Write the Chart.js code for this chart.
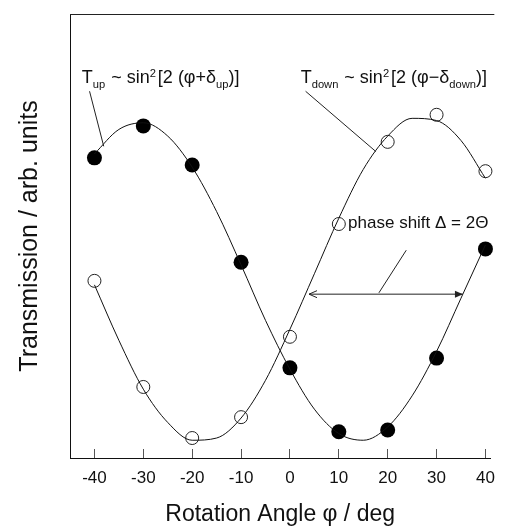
<!DOCTYPE html>
<html><head><meta charset="utf-8">
<script src="https://cdn.jsdelivr.net/npm/chart.js@4.4.1/dist/chart.umd.min.js"></script>
<style>html,body{margin:0;padding:0;background:#fff}canvas{display:block}</style>
</head><body>
<canvas id="c" width="514" height="527"></canvas>
<script>
// ---- data ----
const angles = [-40, -30, -20, -10, 0, 10, 20, 30, 40];
const tUp = [67.6, 74.8, 66.0, 44.1, 20.3, 5.9, 6.3, 22.5, 47.1];      // filled circles
const tDown = [39.9, 16.0, 4.5, 9.2, 27.3, 52.7, 71.2, 77.3, 64.6];    // open circles
const curveAngles = [-40, -35, -30, -25, -20, -15, -10, -5, 0, 5, 10, 15, 20, 25, 30, 35, 40];
const curveUp = [68.5, 74, 75.5, 72.5, 65.5, 55.5, 43.5, 31, 20, 11, 5.5, 4, 7, 14, 24, 36, 48];
const curveDown = [39, 26.5, 15.5, 8, 4, 4.5, 9, 17.5, 29, 41.5, 54, 65, 72.5, 76.5, 76, 71.5, 63];
const tickValues = [-40, -30, -20, -10, 0, 10, 20, 30, 40];
const tickLabels = ['-40', '-30', '-20', '-10', '0', '10', '20', '30', '40'];
const xTitle = 'Rotation Angle φ / deg';
const yTitle = 'Transmission / arb. units';
// annotation anchors in data units (angle, transmission)
const upLabel = [-42.6, 84.4];
const upLeader = [[-41.0, 82.6], [-38.1, 70.2]];
const downLabel = [2.2, 84.4];
const downLeader = [[3.2, 82.6], [17.6, 69.0]];
const shiftLabel = [11.9, 51.7];
const shiftLeader = [[23.8, 46.8], [18.2, 37.2]];
const shiftArrow = [[3.9, 36.9], [35.4, 36.9]];

const FAM = '"Liberation Sans", Arial, Helvetica, sans-serif';
const pts = (xs, ys) => xs.map((v, i) => ({x: v, y: ys[i]}));

function rich(ctx, segs, x0, y0, size) {
  let xx = x0;
  for (const s of segs) {
    let fs = size, dy = 0;
    if (s.sub) { fs = size * 0.62; dy = size * 0.28; }
    if (s.sup) { fs = size * 0.62; dy = -size * 0.36; }
    ctx.font = fs + 'px ' + FAM;
    ctx.fillText(s.t, xx, y0 + dy);
    xx += ctx.measureText(s.t).width + (s.gap || 0);
  }
}

const annot = {
  id: 'annot',
  afterDatasetsDraw(chart) {
    const {ctx, scales: {x, y}, chartArea: a} = chart;
    const P = (p) => [x.getPixelForValue(p[0]), y.getPixelForValue(p[1])];
    ctx.save();
    ctx.strokeStyle = '#222';
    ctx.lineWidth = 1;
    // top frame line
    ctx.beginPath(); ctx.moveTo(a.left, a.top + 0.5); ctx.lineTo(a.right + 4, a.top + 0.5); ctx.stroke();
    const line = (p1, p2) => {
      const A = P(p1), B = P(p2);
      ctx.beginPath(); ctx.moveTo(A[0], A[1]); ctx.lineTo(B[0], B[1]); ctx.stroke();
    };
    line(upLeader[0], upLeader[1]);
    line(downLeader[0], downLeader[1]);
    line(shiftLeader[0], shiftLeader[1]);
    // double arrow
    const L = P(shiftArrow[0]), R = P(shiftArrow[1]);
    ctx.beginPath(); ctx.moveTo(L[0], L[1]); ctx.lineTo(R[0], R[1]); ctx.stroke();
    ctx.beginPath(); ctx.moveTo(L[0] + 8, L[1] - 3.5); ctx.lineTo(L[0], L[1]); ctx.lineTo(L[0] + 8, L[1] + 3.5); ctx.stroke();
    ctx.fillStyle = '#222';
    ctx.beginPath(); ctx.moveTo(R[0] - 8, R[1] - 3.5); ctx.lineTo(R[0], R[1]); ctx.lineTo(R[0] - 8, R[1] + 3.5); ctx.closePath(); ctx.fill();
    // labels
    ctx.fillStyle = '#111';
    ctx.textAlign = 'left';
    ctx.textBaseline = 'alphabetic';
    const fs = 18;
    let p = P(upLabel);
    rich(ctx, [{t: 'T'}, {t: 'up', sub: true, gap: 1}, {t: ' ~ sin'}, {t: '2', sup: true, gap: 2}, {t: '[2 (φ+δ'}, {t: 'up', sub: true}, {t: ')]'}], p[0], p[1], fs);
    p = P(downLabel);
    rich(ctx, [{t: 'T'}, {t: 'down', sub: true, gap: 1}, {t: ' ~ sin'}, {t: '2', sup: true, gap: 2}, {t: '[2 (φ−δ'}, {t: 'down', sub: true}, {t: ')]'}], p[0], p[1], fs);
    p = P(shiftLabel);
    rich(ctx, [{t: 'phase shift Δ = 2Θ'}], p[0], p[1], 17);
    ctx.restore();
  }
};

new Chart(document.getElementById('c'), {
  type: 'scatter',
  data: {
    datasets: [
      {type: 'line', data: pts(curveAngles, curveUp), borderColor: '#111', borderWidth: 1, pointRadius: 0, cubicInterpolationMode: 'monotone', fill: false},
      {type: 'line', data: pts(curveAngles, curveDown), borderColor: '#111', borderWidth: 1, pointRadius: 0, cubicInterpolationMode: 'monotone', fill: false},
      {data: pts(angles, tUp), pointRadius: 7.5, backgroundColor: '#000', borderColor: '#000', borderWidth: 0, clip: false},
      {data: pts(angles, tDown), pointRadius: 6.5, backgroundColor: 'rgba(0,0,0,0)', borderColor: '#222', borderWidth: 1, clip: false}
    ]
  },
  options: {
    responsive: false,
    animation: false,
    layout: {padding: {top: 14, right: 9, bottom: 0, left: 0}},
    plugins: {legend: {display: false}, tooltip: {enabled: false}},
    scales: {
      x: {
        type: 'linear', min: -45, max: 41, position: 'bottom',
        afterBuildTicks: (s) => { s.ticks = tickValues.map(v => ({value: v})); },
        afterFit: (s) => { s.height = 69; },
        ticks: {
          padding: 19, color: '#111', autoSkip: false, maxRotation: 0,
          font: {size: 17, family: FAM},
          callback: (v) => { const i = tickValues.indexOf(v); return i >= 0 ? tickLabels[i] : ''; }
        },
        grid: {display: true, drawOnChartArea: false, drawTicks: true, tickLength: -9, color: '#555', lineWidth: 1},
        border: {display: true, color: '#111', width: 1},
        title: {display: true, text: xTitle, color: '#111', font: {size: 23, family: FAM, lineHeight: 1}, padding: {top: 0, bottom: 0.5}}
      },
      y: {
        min: 0, max: 100,
        afterFit: (s) => { s.width = 70; },
        ticks: {display: false},
        grid: {display: false},
        border: {display: true, color: '#111', width: 1},
        title: {display: true, text: yTitle, color: '#111', font: {size: 25, family: FAM, lineHeight: 1}, padding: {top: 17.5, bottom: 0}}
      }
    }
  },
  plugins: [annot]
});
</script>
</body></html>
